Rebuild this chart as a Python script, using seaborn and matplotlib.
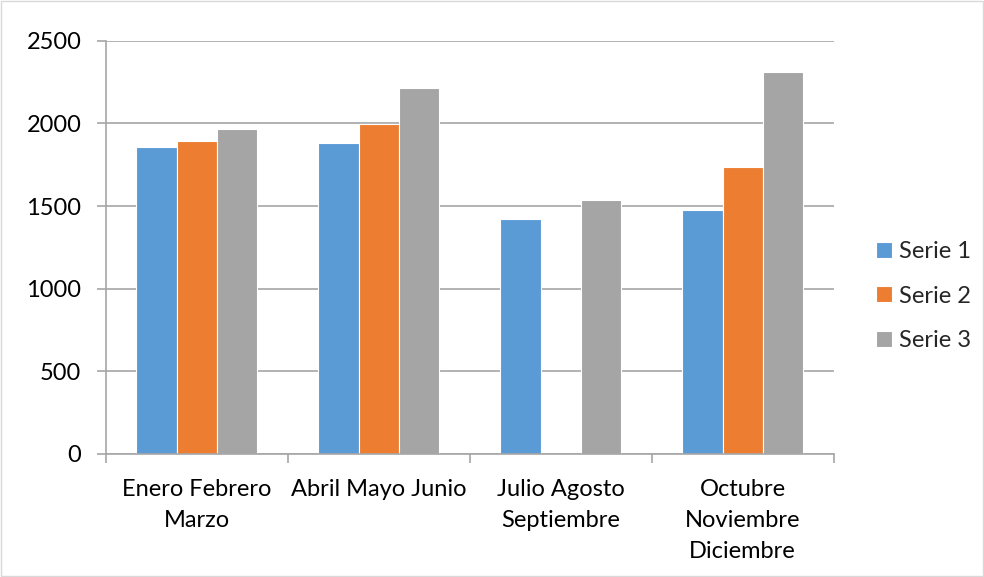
import pandas as pd
import matplotlib
matplotlib.use("Agg")
import matplotlib.pyplot as plt
import seaborn as sns
import numpy as np

# datos del gráfico
trimestres = ["Enero Febrero\nMarzo", "Abril Mayo Junio",
              "Julio Agosto\nSeptiembre", "Octubre\nNoviembre\nDiciembre"]
serie_1 = [1858, 1881, 1424, 1477]
serie_2 = [1895, 1993, np.nan, 1737]
serie_3 = [1967, 2212, 1538, 2308]
series = ["Serie 1", "Serie 2", "Serie 3"]
colores = ["#5B9BD5", "#ED7D31", "#A5A5A5"]

# formato largo para seaborn
df = pd.DataFrame({
    "Trimestre": trimestres * 3,
    "Valor": serie_1 + serie_2 + serie_3,
    "Serie": [s for s in series for _ in trimestres],
})

sns.set_theme(style="white")
plt.rcParams["font.family"] = ["Lato", "DejaVu Sans"]

fig = plt.figure(figsize=(9.84, 5.77), dpi=100)
ax = fig.add_axes([0.1074, 0.2132, 0.7399, 0.7163])

sns.barplot(data=df, x="Trimestre", y="Valor", hue="Serie", order=trimestres,
            hue_order=series, palette=colores, width=0.665, gap=0,
            edgecolor="white", linewidth=0.8, saturation=1, ax=ax)

gris = "#A6A6A6"
tam = 17
ax.set_xlim(-0.5, 3.5)
ax.set_ylim(0, 2500)
ax.set_yticks([0, 500, 1000, 1500, 2000, 2500])
ax.yaxis.grid(True, color=gris, linewidth=1.2)
ax.set_axisbelow(True)
for lado in ["top", "right"]:
    ax.spines[lado].set_visible(False)
for lado in ["left", "bottom"]:
    ax.spines[lado].set_color(gris)
    ax.spines[lado].set_linewidth(1.2)

ax.set_xlabel("")
ax.set_ylabel("")
ax.tick_params(axis="y", length=6.5, width=1.2, color=gris, pad=11,
               labelsize=tam, labelcolor="black", left=True)
ax.set_xticks([-0.5, 0.5, 1.5, 2.5, 3.5], minor=True)
ax.tick_params(axis="x", which="major", length=0, pad=18, labelsize=tam,
               labelcolor="black")
ax.tick_params(axis="x", which="minor", length=6.5, width=1.2, color=gris,
               bottom=True)
for t in ax.get_xticklabels():
    t.set_linespacing(1.6)

handles, labels = ax.get_legend_handles_labels()
ax.legend(handles, labels, loc="center left", bbox_to_anchor=(0.89, 0.487),
          bbox_transform=fig.transFigure, frameon=False, fontsize=tam,
          handlelength=0.68, handleheight=0.68, handletextpad=0.3,
          labelspacing=1.0, borderaxespad=0, borderpad=0)

# borde exterior
fig.patches.append(plt.Rectangle((0.001, 0.001), 0.998, 0.998,
                                 transform=fig.transFigure, fill=False,
                                 edgecolor="#D9D9D9", linewidth=1))

fig.savefig("out.png", dpi=100)
